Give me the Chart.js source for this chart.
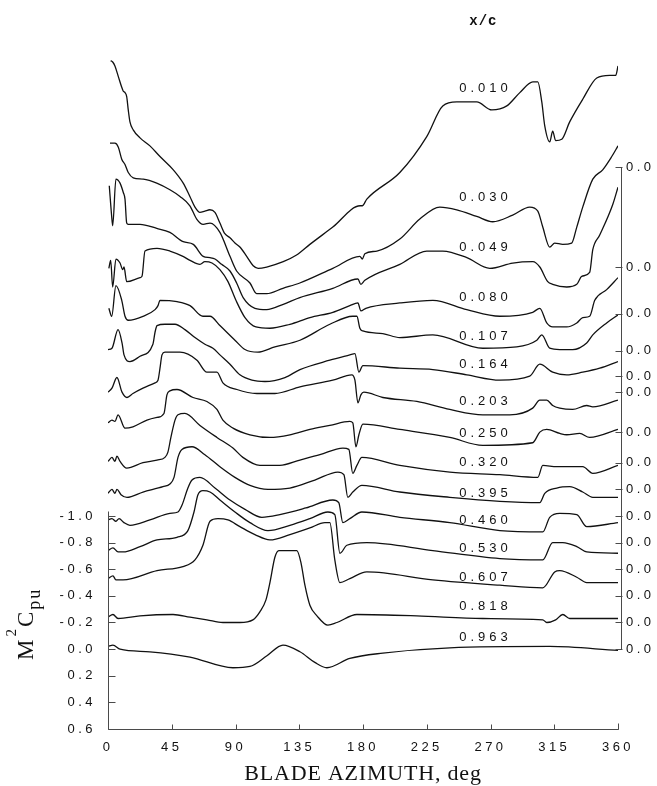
<!DOCTYPE html>
<html>
<head>
<meta charset="utf-8">
<script src="https://cdn.jsdelivr.net/npm/chart.js@4.4.1/dist/chart.umd.min.js"></script>
<style>
  html, body { margin: 0; padding: 0; background: #fff; }
</style>
</head>
<body>
<canvas id="chartWaterfall" width="657" height="786"></canvas>
<script>
(function() {
  'use strict';

  // chordwise stations, top curve first
  const chordStations = ['0.010', '0.030', '0.049', '0.080', '0.107', '0.164', '0.203',
    '0.250', '0.320', '0.395', '0.460', '0.530', '0.607', '0.818', '0.963'];
  // zero level of each curve on the M^2 Cpu scale (right hand "0.0" ticks)
  const zeroOffsets = [-3.62, -2.87, -2.52, -2.24, -2.05, -1.93, -1.63,
    -1.40, -1.20, -1.00, -0.80, -0.60, -0.40, -0.20, 0.00];
  const azimuthTicks = [0, 45, 90, 135, 180, 225, 270, 315, 360];
  const cpTicks = [-1.0, -0.8, -0.6, -0.4, -0.2, 0.0, 0.2, 0.4, 0.6];

  // [blade azimuth deg, M^2 Cpu] for each station
  const cp010 = [[1.9,-0.80],[3.3,-0.79],[4.9,-0.76],[7.3,-0.68],[9.7,-0.60],[10.8,-0.57],[12,-0.56],[13.2,-0.53],[14.3,-0.43],[15.5,-0.34],[17.8,-0.28],[22.6,-0.22],[29.6,-0.16],[36.7,-0.08],[46.1,0.02],[53.1,0.12],[57.8,0.22],[61.4,0.30],[64.9,0.34],[68.4,0.33],[71.9,0.32],[75.5,0.34],[79,0.42],[82.5,0.50],[86.1,0.53],[89.6,0.57],[93.1,0.60],[97.9,0.67],[102.5,0.74],[106,0.76],[112,0.75],[123.7,0.71],[133.1,0.66],[142.5,0.58],[158.7,0.45],[178,0.29],[179.5,0.29],[182.7,0.24],[206,0.04],[225,-0.23],[236.3,-0.46],[246.2,-0.49],[260.3,-0.49],[270.9,-0.43],[281.5,-0.46],[290.7,-0.56],[299.9,-0.64],[303.4,-0.64],[306.2,-0.49],[308.3,-0.31],[311.8,-0.19],[313.9,-0.27],[316,-0.20],[320.3,-0.21],[325.9,-0.34],[335.1,-0.51],[345,-0.67],[354.1,-0.69],[358.4,-0.69],[360,-0.76]];
  const cp030 = [[1.4,-0.93],[4.9,-0.93],[7.3,-0.90],[9.7,-0.81],[12,-0.77],[14.3,-0.71],[17.8,-0.67],[24.9,-0.66],[34.4,-0.63],[43.7,-0.58],[50.8,-0.53],[57.8,-0.46],[62.6,-0.36],[67.2,-0.32],[72,-0.33],[79,-0.26],[86.1,-0.08],[90.8,0.03],[100.2,0.12],[104.9,0.20],[112,0.20],[123.5,0.16],[135.4,0.12],[158.7,0.01],[177.8,-0.08],[179.5,-0.06],[181.3,-0.10],[189.8,-0.12],[206,-0.21],[220.1,-0.36],[234.2,-0.45],[246.2,-0.43],[260.3,-0.38],[271.6,-0.34],[285.7,-0.39],[297.7,-0.45],[303.4,-0.42],[306.9,-0.30],[311.8,-0.15],[315.3,-0.18],[321,-0.17],[327.3,-0.18],[330.9,-0.30],[335.1,-0.45],[342.2,-0.66],[349.2,-0.73],[355.6,-0.83],[360,-0.91]];
  const cp049 = [[0.9,-0.96],[2.6,-0.73],[3.3,-0.66],[5.6,-1.01],[8.5,-0.98],[10.8,-0.91],[12,-0.86],[13.2,-0.68],[14.3,-0.67],[22.6,-0.67],[34.4,-0.64],[43.7,-0.61],[53.1,-0.54],[60.2,-0.52],[67.2,-0.43],[72,-0.42],[75.5,-0.41],[80.2,-0.37],[86.1,-0.32],[90.8,-0.23],[95.4,-0.12],[103.7,-0.04],[112,-0.03],[123.7,-0.07],[135.4,-0.12],[158.7,-0.19],[176.4,-0.26],[178.5,-0.22],[181.3,-0.25],[206,-0.37],[225,-0.47],[236.3,-0.47],[253.3,-0.42],[269.5,-0.34],[285.7,-0.38],[299.9,-0.39],[304.8,-0.35],[310.4,-0.24],[313.9,-0.22],[323.8,-0.20],[330.9,-0.22],[334.4,-0.28],[340,-0.31],[342.2,-0.48],[347.1,-0.59],[356.3,-0.82],[360,-0.95]];
  const cp080 = [[0.6,-0.62],[1.9,-0.68],[3.3,-0.48],[5.6,-0.69],[8.5,-0.66],[10.4,-0.61],[11.3,-0.63],[13.2,-0.52],[22.6,-0.55],[24,-0.56],[26.1,-0.75],[34.6,-0.77],[43.7,-0.75],[52.9,-0.71],[57.9,-0.68],[64.9,-0.65],[68.4,-0.67],[73.4,-0.66],[79,-0.61],[84.7,-0.52],[90.3,-0.38],[96.7,-0.25],[104.4,-0.18],[114.3,-0.17],[128.4,-0.20],[142.5,-0.25],[158.7,-0.29],[170.7,-0.34],[176.4,-0.36],[178.5,-0.30],[182,-0.32],[206,-0.36],[229.3,-0.38],[253.3,-0.31],[276.6,-0.26],[299.8,-0.29],[304.8,-0.32],[309.7,-0.21],[313.9,-0.18],[323.8,-0.18],[330.9,-0.21],[335.1,-0.25],[340,-0.26],[343.6,-0.38],[352,-0.46],[360,-0.55]];
  const cp107 = [[0.6,-0.51],[2.6,-0.45],[5.6,-0.68],[9.7,-0.57],[12,-0.45],[14.3,-0.42],[24.7,-0.45],[33.2,-0.50],[35.3,-0.53],[36.7,-0.57],[48.7,-0.56],[57.9,-0.53],[67,-0.45],[72,-0.45],[79,-0.38],[89.6,-0.27],[96.7,-0.20],[105.8,-0.18],[117.8,-0.22],[135.5,-0.27],[156.6,-0.39],[172.8,-0.45],[175.7,-0.45],[177.8,-0.36],[179.9,-0.34],[194,-0.32],[206,-0.29],[229.3,-0.31],[264.6,-0.21],[288.5,-0.22],[302.7,-0.27],[306.2,-0.31],[311.8,-0.21],[318.9,-0.20],[328,-0.20],[337.9,-0.25],[342.2,-0.31],[352,-0.40],[360,-0.46]];
  const cp164 = [[0,-0.32],[2.8,-0.33],[7.1,-0.47],[9.9,-0.37],[11.3,-0.28],[15.5,-0.23],[22.6,-0.27],[31.7,-0.36],[33.2,-0.45],[34.6,-0.50],[40.2,-0.51],[47.3,-0.51],[54.3,-0.47],[61.4,-0.41],[68.4,-0.36],[74.1,-0.33],[79,-0.28],[86.1,-0.21],[93.1,-0.13],[101.6,-0.09],[110.8,-0.08],[124.9,-0.11],[135.5,-0.17],[156.6,-0.24],[170.7,-0.28],[174.3,-0.29],[177.1,-0.15],[179.9,-0.20],[206,-0.18],[229.3,-0.17],[253.3,-0.13],[276.6,-0.09],[297.7,-0.12],[304.8,-0.21],[313.9,-0.15],[323.8,-0.13],[335.1,-0.15],[347.1,-0.18],[360,-0.23]];
  const cp203 = [[0,-0.30],[2.8,-0.33],[6.3,-0.41],[9.9,-0.30],[13.4,-0.26],[17.6,-0.29],[24.7,-0.33],[33.2,-0.37],[35.3,-0.39],[36.7,-0.48],[38.1,-0.58],[40.2,-0.60],[50.8,-0.60],[62.8,-0.54],[69.8,-0.45],[76.9,-0.45],[81.1,-0.37],[91,-0.32],[105.1,-0.29],[117.8,-0.29],[135.5,-0.34],[158.7,-0.39],[172.1,-0.43],[174.3,-0.39],[176.4,-0.22],[178.5,-0.28],[180.6,-0.30],[194,-0.26],[218,-0.23],[241.3,-0.17],[264.6,-0.13],[283.6,-0.13],[299.8,-0.18],[304.8,-0.24],[309.7,-0.24],[313.9,-0.20],[318.9,-0.18],[328,-0.17],[337.9,-0.20],[342.2,-0.19],[360,-0.24]];
  const cp250 = [[0,-0.30],[2.8,-0.32],[4.9,-0.31],[7.1,-0.36],[12,-0.26],[17.6,-0.27],[27.5,-0.32],[34.6,-0.34],[39.5,-0.37],[41.6,-0.51],[43.7,-0.54],[48.7,-0.55],[60,-0.49],[69.8,-0.46],[76.9,-0.40],[81.1,-0.32],[88.2,-0.26],[100.2,-0.21],[114.3,-0.19],[128.4,-0.21],[142.5,-0.25],[156.6,-0.28],[170.7,-0.31],[172.8,-0.30],[175,-0.12],[177.1,-0.21],[179.9,-0.29],[206,-0.25],[241.3,-0.19],[264.6,-0.13],[299.8,-0.15],[304.8,-0.23],[309.7,-0.25],[318.9,-0.22],[323.8,-0.21],[333,-0.22],[340,-0.19],[360,-0.25]];
  const cp320 = [[0,-0.21],[2.8,-0.24],[4.9,-0.21],[6.3,-0.25],[8.5,-0.21],[13.2,-0.16],[24.7,-0.20],[34.6,-0.22],[40.2,-0.24],[42.3,-0.28],[44.4,-0.39],[47.3,-0.52],[49.4,-0.56],[54.3,-0.57],[64.9,-0.48],[76.9,-0.39],[88.2,-0.31],[95.2,-0.24],[107.2,-0.18],[121.3,-0.18],[135.5,-0.22],[149.6,-0.26],[165.8,-0.31],[170,-0.30],[172.8,-0.12],[175.7,-0.18],[179.2,-0.24],[206,-0.18],[241.3,-0.13],[276.6,-0.11],[303.4,-0.09],[306.9,-0.18],[316.8,-0.17],[335.1,-0.17],[342.2,-0.12],[360,-0.18]];
  const cp395 = [[0,-0.17],[2.8,-0.20],[4.9,-0.17],[6.3,-0.20],[9.2,-0.16],[13.4,-0.14],[24.7,-0.18],[38.8,-0.22],[43.7,-0.24],[46.6,-0.29],[49.4,-0.44],[52.2,-0.50],[59.3,-0.52],[68.4,-0.46],[79,-0.37],[89.6,-0.29],[100.2,-0.23],[112.9,-0.20],[128.4,-0.21],[146,-0.27],[162.3,-0.33],[166.5,-0.31],[169.3,-0.14],[172.8,-0.18],[179.2,-0.23],[206,-0.18],[241.3,-0.14],[276.6,-0.11],[304.8,-0.10],[308.3,-0.17],[316.8,-0.21],[325.9,-0.22],[335.1,-0.18],[342.2,-0.14],[360,-0.14]];
  const cp460 = [[0,-0.17],[2.8,-0.18],[5.6,-0.16],[7.8,-0.18],[11.3,-0.15],[15.5,-0.13],[29.6,-0.17],[43.7,-0.22],[49.4,-0.23],[52.2,-0.28],[56.4,-0.41],[59.3,-0.47],[64.9,-0.49],[75.5,-0.41],[86.1,-0.32],[96.7,-0.25],[108.6,-0.19],[121.3,-0.21],[139.7,-0.26],[158.7,-0.32],[162.9,-0.30],[165.8,-0.15],[170.7,-0.18],[179.2,-0.23],[206,-0.19],[241.3,-0.15],[276.6,-0.09],[306.9,-0.08],[311.8,-0.19],[318.9,-0.22],[330.9,-0.21],[337.9,-0.12],[360,-0.15]];
  const cp530 = [[0,-0.14],[3.5,-0.16],[7.1,-0.13],[10.6,-0.13],[22.6,-0.17],[34.6,-0.22],[48.7,-0.24],[56.4,-0.29],[60.7,-0.43],[63.5,-0.56],[67,-0.59],[72,-0.58],[79,-0.52],[89.6,-0.43],[100.2,-0.35],[112.9,-0.29],[128.4,-0.33],[142.5,-0.38],[155.2,-0.43],[160.1,-0.41],[163.7,-0.12],[168.6,-0.18],[182.7,-0.20],[229.3,-0.14],[276.6,-0.08],[306.9,-0.07],[313.9,-0.20],[321,-0.20],[330.9,-0.17],[337.9,-0.13],[360,-0.12]];
  const cp607 = [[0,-0.13],[3.5,-0.15],[5.6,-0.12],[10.6,-0.12],[34.6,-0.19],[52.9,-0.22],[61.4,-0.27],[67,-0.38],[72,-0.56],[77.6,-0.58],[84.7,-0.57],[93.1,-0.52],[103.7,-0.46],[114.3,-0.42],[128.4,-0.46],[142.5,-0.51],[153.1,-0.55],[156.6,-0.55],[160.1,-0.27],[163.7,-0.10],[170.7,-0.13],[182.7,-0.18],[229.3,-0.12],[276.6,-0.08],[306.9,-0.06],[315.3,-0.18],[318.9,-0.19],[330.9,-0.14],[337.9,-0.10],[360,-0.10]];
  const cp818 = [[0,-0.04],[3.5,-0.06],[7.1,-0.03],[22.6,-0.05],[45.9,-0.06],[57.9,-0.04],[69.8,-0.02],[81.1,0.00],[93.1,0.00],[102.3,-0.02],[107.2,-0.08],[111.5,-0.17],[114.3,-0.30],[117.8,-0.49],[120.6,-0.54],[133.3,-0.54],[136.2,-0.45],[139,-0.28],[142.5,-0.13],[147.5,-0.05],[155.2,0.02],[161.6,0.00],[175.7,-0.06],[218,-0.05],[264.6,-0.03],[306.9,-0.02],[309.7,0.00],[316,-0.02],[321,-0.06],[325.9,-0.03],[360,-0.03]];
  const cp963 = [[0,-0.02],[3.5,-0.03],[8.5,0.00],[29.6,0.02],[57.9,0.06],[88.2,0.14],[100.2,0.13],[112.2,0.05],[123.5,-0.03],[135.5,0.02],[146,0.10],[154.5,0.14],[170.7,0.07],[194,0.03],[241.3,-0.01],[311.8,-0.02],[360,0.01]];

  const curves = [cp010, cp030, cp049, cp080, cp107, cp164, cp203,
    cp250, cp320, cp395, cp460, cp530, cp607, cp818, cp963];

  // label height above each curve's zero, same units
  const labelLift = [-0.59, -0.52, -0.50, -0.40, -0.30, -0.21, -0.23,
    -0.22, -0.20, -0.17, -0.17, -0.16, -0.14, -0.12, -0.09];

  const ink = '#111';
  const tickFont = {family: 'Liberation Sans', size: 13};

  const frame = {
    id: 'frame',
    beforeDraw(chart) {
      chart.ctx.letterSpacing = '3.5px';
    },
    afterDraw(chart) {
      const {ctx} = chart;
      const {x, y} = chart.scales;
      const px = v => Math.round(x.getPixelForValue(v)) + 0.5;
      const py = v => Math.round(y.getPixelForValue(v)) + 0.5;
      const xl = px(0), xr = px(360), yb = py(0.6);
      const xa = xr + 3;

      ctx.save();
      ctx.strokeStyle = '#4a4a4a';
      ctx.lineWidth = 1;
      ctx.beginPath();
      // left axis and x axis
      ctx.moveTo(xl, py(-1.04));
      ctx.lineTo(xl, yb);
      ctx.lineTo(xr, yb);
      ctx.lineTo(xr, yb - 6);
      cpTicks.forEach(v => { ctx.moveTo(xl, py(v)); ctx.lineTo(xl + 7, py(v)); });
      azimuthTicks.forEach(v => { ctx.moveTo(px(v), yb); ctx.lineTo(px(v), yb - 5); });
      // right hand zero axis
      ctx.moveTo(xa, py(zeroOffsets[0]));
      ctx.lineTo(xa, py(0));
      zeroOffsets.forEach(v => { ctx.moveTo(xa - 6, py(v)); ctx.lineTo(xa + 1, py(v)); });
      ctx.stroke();

      ctx.fillStyle = ink;
      // station labels
      ctx.font = '13px "Liberation Sans"';
      ctx.letterSpacing = '4px';
      ctx.textAlign = 'center';
      ctx.textBaseline = 'middle';
      chordStations.forEach((s, i) => {
        ctx.fillText(s, x.getPixelForValue(265) + 2, y.getPixelForValue(zeroOffsets[i] + labelLift[i]));
      });

      // x/c header
      ctx.font = 'bold 14px "Liberation Mono"';
      ctx.letterSpacing = '1px';
      ctx.textBaseline = 'alphabetic';
      ctx.fillText('x/c', x.getPixelForValue(265), 25);

      // x title
      ctx.font = '22px "Liberation Serif"';
      ctx.letterSpacing = '0.8px';
      ctx.fillText('BLADE AZIMUTH, deg', (x.left + x.right) / 2, 780);

      // y title M^2 C_pu, rotated
      ctx.translate(33, 660);
      ctx.rotate(-Math.PI / 2);
      ctx.textAlign = 'left';
      ctx.letterSpacing = '2px';
      let cx = 0;
      ctx.font = '23px "Liberation Serif"';
      ctx.fillText('M', cx, 0);
      cx += ctx.measureText('M').width + 1;
      ctx.font = '15px "Liberation Serif"';
      ctx.fillText('2', cx, -17);
      cx += ctx.measureText('2').width;
      ctx.font = '23px "Liberation Serif"';
      ctx.fillText('C', cx, 0);
      cx += ctx.measureText('C').width;
      ctx.font = '18px "Liberation Serif"';
      ctx.fillText('pu', cx, 7);
      ctx.restore();
      ctx.letterSpacing = '0px';
    }
  };

  new Chart(document.getElementById('chartWaterfall'), {
    type: 'line',
    data: {
      datasets: curves.map((pts, i) => ({
        label: chordStations[i],
        data: pts.map(p => ({x: p[0], y: p[1] + zeroOffsets[i]})),
        borderColor: ink,
        borderWidth: 1.3,
        pointRadius: 0,
        cubicInterpolationMode: 'monotone',
        fill: false
      }))
    },
    options: {
      responsive: false,
      animation: false,
      layout: { padding: { top: 50, left: 0, right: 0, bottom: 0 } },
      plugins: { legend: { display: false }, tooltip: { enabled: false } },
      scales: {
        x: {
          type: 'linear', min: 0, max: 360,
          afterBuildTicks: s => { s.ticks = azimuthTicks.map(v => ({value: v})); },
          afterFit: s => { s.height = 57; },
          grid: { display: false, drawTicks: false },
          border: { display: false },
          ticks: { padding: 11, color: ink, font: tickFont, maxRotation: 0, autoSkip: false }
        },
        y: {
          type: 'linear', position: 'left', reverse: true, min: -4.5, max: 0.6,
          afterBuildTicks: s => { s.ticks = cpTicks.map(v => ({value: v})); },
          afterFit: s => { s.width = 108; },
          grid: { display: false, drawTicks: false },
          border: { display: false },
          ticks: { padding: 12, color: ink, font: tickFont, autoSkip: false,
            callback: v => Number(v).toFixed(1) }
        },
        y2: {
          type: 'linear', position: 'right', reverse: true, min: -4.5, max: 0.6,
          afterBuildTicks: s => { s.ticks = zeroOffsets.map(v => ({value: v})); },
          afterFit: s => { s.width = 39; },
          grid: { display: false, drawTicks: false },
          border: { display: false },
          ticks: { padding: 8, color: ink, font: tickFont, autoSkip: false,
            callback: () => '0.0' }
        }
      }
    },
    plugins: [frame]
  });
})();
</script>
</body>
</html>
